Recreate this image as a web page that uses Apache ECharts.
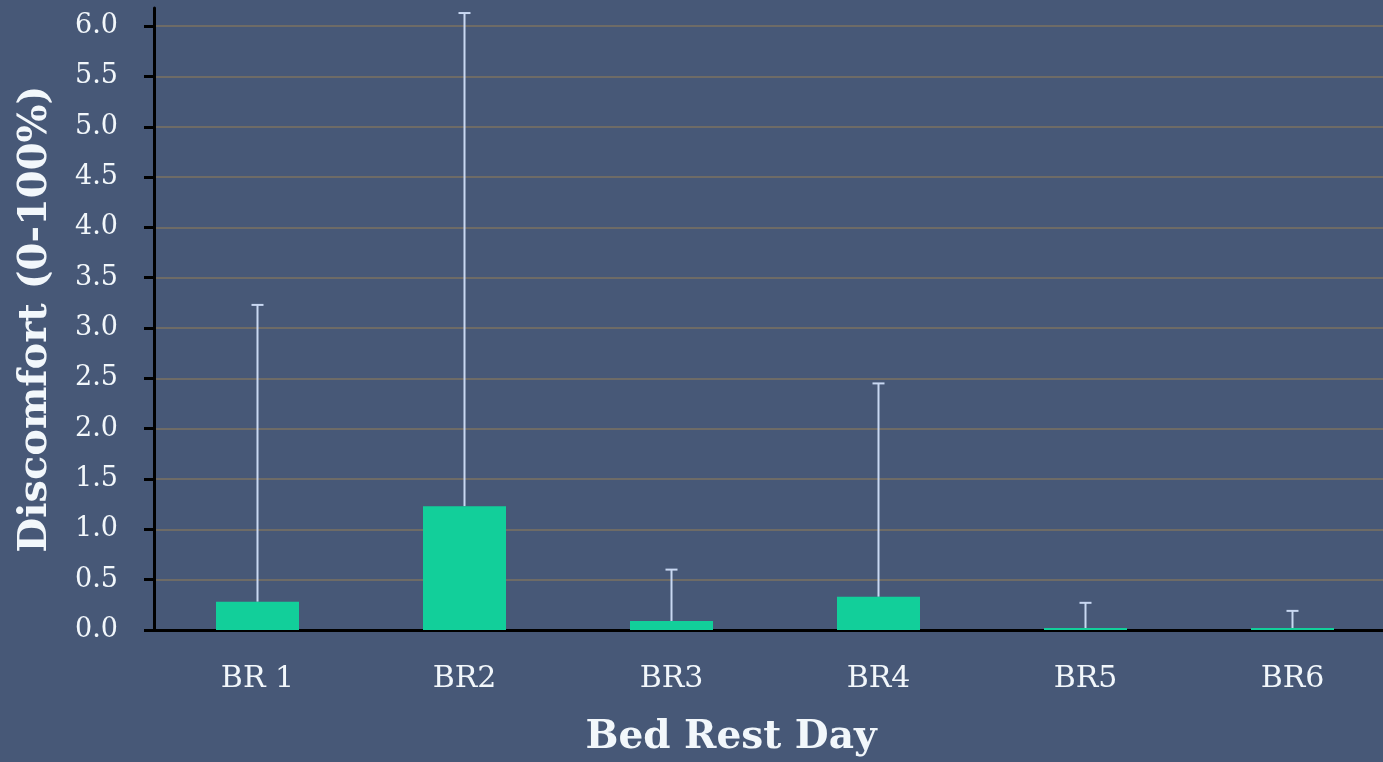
<!DOCTYPE html>
<html>
<head>
<meta charset="utf-8">
<script src="https://cdn.jsdelivr.net/npm/echarts@6/dist/echarts.min.js"></script>
<style>
  html, body { margin: 0; padding: 0; background: #475877; overflow: hidden; }
  #main { width: 1396px; height: 762px; }
</style>
</head>
<body>
<div id="main"></div>
<script>
// data
let days = ['BR 1', 'BR2', 'BR3', 'BR4', 'BR5', 'BR6'];
let means = [0.28, 1.23, 0.09, 0.33, 0.02, 0.02];
let upper = [3.23, 6.13, 0.60, 2.45, 0.27, 0.19];
let yTicks = [0, 0.5, 1, 1.5, 2, 2.5, 3, 3.5, 4, 4.5, 5, 5.5, 6];

let serif = '"DejaVu Serif", "Liberation Serif", serif';
let textColor = '#f2f7fb';

var myChart = echarts.init(document.getElementById('main'));

function errorBar(params, api){
  let x = api.value(0);
  let lo = api.coord([x, api.value(1)]);
  let hi = api.coord([x, api.value(2)]);
  let cap = 6;
  let style = { stroke: '#c9d8f2', lineWidth: 2 };
  return {
    type: 'group',
    children: [
      { type: 'line', shape: { x1: lo[0], y1: lo[1], x2: hi[0], y2: hi[1] }, style: style },
      { type: 'line', shape: { x1: hi[0] - cap, y1: hi[1], x2: hi[0] + cap, y2: hi[1] }, style: style }
    ]
  };
}

option = {
  backgroundColor: '#475877',
  animation: false,
  grid: { left: 154, right: 0, top: 8, bottom: 130, containLabel: false },
  xAxis: {
    type: 'category',
    data: days,
    name: 'Bed Rest Day',
    nameLocation: 'middle',
    nameGap: 88,
    nameTextStyle: { color: textColor, fontFamily: serif, fontWeight: 'bold', fontSize: 39, padding: [0, 88, 0, 0] },
    axisLine: { lineStyle: { color: '#000', width: 3 } },
    axisTick: { length: 10, lineStyle: { color: '#000', width: 3 } },
    axisLabel: { color: textColor, fontFamily: serif, fontSize: 30, margin: 34 },
    splitLine: { show: false }
  },
  yAxis: {
    type: 'value',
    min: 0,
    max: 6.18,
    name: 'Discomfort (0-100%)',
    nameLocation: 'middle',
    nameGap: 98,
    nameTextStyle: { color: textColor, fontFamily: serif, fontWeight: 'bold', fontSize: 40 },
    axisLine: { show: true, lineStyle: { color: '#000', width: 3 } },
    axisTick: { show: true, length: 10, customValues: yTicks, lineStyle: { color: '#000', width: 3 } },
    axisLabel: { color: textColor, fontFamily: serif, fontSize: 27, margin: 36, customValues: yTicks,
      formatter: v => v.toFixed(1) },
    splitLine: { show: true, lineStyle: { color: '#6e6b66', width: 2 } }
  },
  series: [
    {
      name: 'mean',
      type: 'bar',
      data: means,
      barWidth: 83,
      itemStyle: { color: '#12cf9a' },
      z: 2
    },
    {
      name: 'error',
      type: 'custom',
      renderItem: errorBar,
      data: days.map((d, i) => [i, means[i], upper[i]]),
      z: 1
    }
  ]
};

if (option && typeof option === "object") {
  myChart.setOption(option, true);
}
</script>
</body>
</html>
